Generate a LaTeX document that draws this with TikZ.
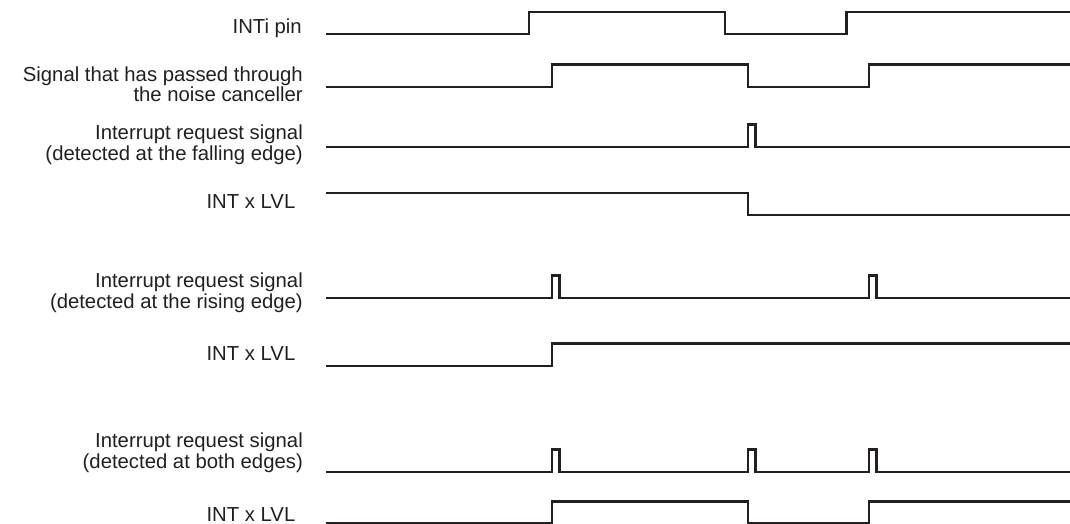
\documentclass[tikz,border=0pt]{standalone}
\usepackage{fontspec}
\setmainfont{Liberation Sans}
\definecolor{wave}{HTML}{231F20}
\begin{document}
\begin{tikzpicture}[x=1pt, y=-1pt,
    sig/.style={line width=2.3pt, draw=wave},
    lab/.style={anchor=base east, align=right, inner sep=0pt,
      text=wave, font=\fontsize{20.3}{20.6}\selectfont}]
  \useasboundingbox (0,0) rectangle (1070,524);

% ---------------- labels, right-aligned against the start of the traces
  \node[lab] (lblPin)     at (302,33.3)  {INTi pin};
  \node[lab] (lblNc)      at (303,101.7) {Signal that has passed through\\the noise canceller};
  \node[lab] (lblFall)    at (303,160)   {Interrupt request signal\\(detected at the falling edge)};
  \node[lab] (lblFallLvl) at (295.5,208.3) {INT x LVL};
  \node[lab] (lblRise)    at (303,308)   {Interrupt request signal\\(detected at the rising edge)};
  \node[lab] (lblRiseLvl) at (295.5,360) {INT x LVL};
  \node[lab] (lblBoth)    at (303,468)   {Interrupt request signal\\(detected at both edges)};
  \node[lab] (lblBothLvl) at (295.5,521.7) {INT x LVL};

% ---------------- pin and filtered signal: filter delays every edge by one step
  \draw[sig] (326,34.3) -- (529,34.3) -- (529,12) -- (725,12) -- (725,34.3)
    -- (846.5,34.3) -- (846.5,12) -- (1070,12);
  \draw[sig] (326,87.3) -- (552,87.3) -- (552,64.5) -- (748,64.5) -- (748,87.3)
    -- (869,87.3) -- (869,64.5) -- (1070,64.5);

% ---------------- falling edge: one pulse, level drops with it
  \draw[sig] (326,147) -- (748,147) -- (748,124.5) -- (755.5,124.5) -- (755.5,147)
    -- (1070,147);
  \draw[sig] (326,192.7) -- (748,192.7) -- (748,215) -- (1070,215);

% ---------------- rising edge: two pulses, level rises at the first
  \draw[sig] (326,297.7) -- (552,297.7) -- (552,275.5) -- (559.5,275.5) -- (559.5,297.7)
    -- (869,297.7) -- (869,275.5) -- (876.5,275.5) -- (876.5,297.7) -- (1070,297.7);
  \draw[sig] (326,366) -- (552,366) -- (552,343.5) -- (1070,343.5);

% ---------------- both edges: three pulses, level follows the filtered signal
  \draw[sig] (326,472.3) -- (552,472.3) -- (552,449.5) -- (559.5,449.5) -- (559.5,472.3)
    -- (748,472.3) -- (748,449.5) -- (755.5,449.5) -- (755.5,472.3)
    -- (869,472.3) -- (869,449.5) -- (876.5,449.5) -- (876.5,472.3) -- (1070,472.3);
  \draw[sig] (326,523.5) -- (552,523.5) -- (552,501.5) -- (748,501.5) -- (748,523.5)
    -- (869,523.5) -- (869,501.5) -- (1070,501.5);
\end{tikzpicture}
\end{document}
